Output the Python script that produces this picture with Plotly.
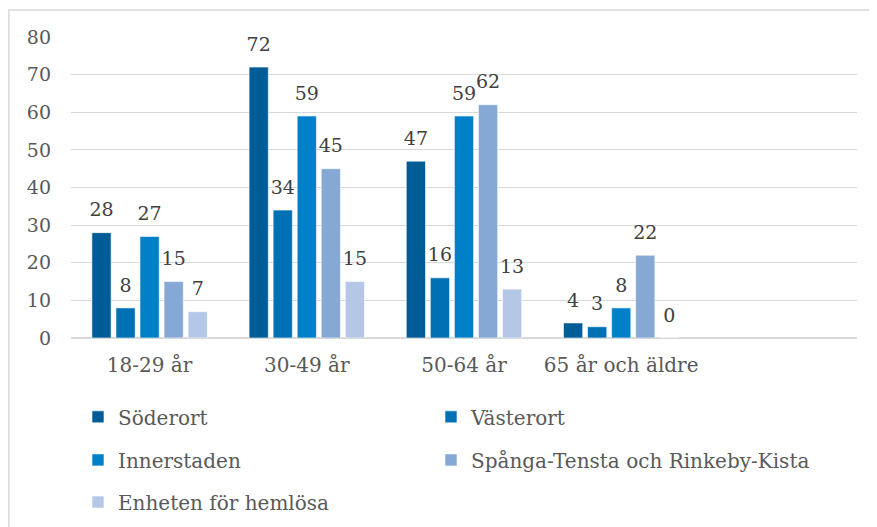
import plotly.graph_objects as go

categories = ["18-29 år", "30-49 år", "50-64 år", "65 år och äldre"]
series_names = ["Söderort", "Västerort", "Innerstaden",
                "Spånga-Tensta och Rinkeby-Kista", "Enheten för hemlösa"]
soderort = [28, 72, 47, 4]
vasterort = [8, 34, 16, 3]
innerstaden = [27, 59, 59, 8]
spanga = [15, 45, 62, 22]
hemlosa = [7, 15, 13, 0]
y_ticks = [0, 10, 20, 30, 40, 50, 60, 70, 80]

values = [soderort, vasterort, innerstaden, spanga, hemlosa]
colors = ["#005C97", "#0070B5", "#0080C8", "#85A8D5", "#B4C7E7"]
legend_ids = ["legend", "legend2", "legend3", "legend4", "legend5"]

FONT = "DejaVu Serif"
BARGAP = 0.235

fig = go.Figure()
for i, (name, vals, col, lg) in enumerate(zip(series_names, values, colors, legend_ids)):
    fig.add_trace(go.Bar(
        name=name, x=categories, y=vals,
        marker=dict(color=col, line=dict(color="white", width=0.6)),
        legend=lg, offsetgroup=str(i),
    ))
# value labels, grouped like the bars
for i, (name, vals) in enumerate(zip(series_names, values)):
    fig.add_trace(go.Scatter(
        x=categories, y=vals, mode="markers+text",
        text=[str(v) for v in vals], textposition="top center",
        marker=dict(size=17, opacity=0),
        textfont=dict(family=FONT, size=19, color="#404040"),
        showlegend=False, hoverinfo="skip", cliponaxis=False,
        offsetgroup=str(i),
    ))

leg_common = dict(orientation="h", xanchor="left", yanchor="middle",
                  font=dict(family=FONT, size=20, color="#595959"),
                  bgcolor="rgba(0,0,0,0)", itemclick=False)
COL1, COL2 = 0.0089, 0.458
ROW1, ROW2, ROW3 = -0.262, -0.405, -0.545

fig.update_layout(
    width=869, height=519,
    margin=dict(l=63, r=20, t=29, b=189, autoexpand=False),
    paper_bgcolor="white", plot_bgcolor="white",
    barmode="group", bargap=BARGAP, bargroupgap=0.2,
    scattermode="group", scattergap=BARGAP,
    font=dict(family=FONT, size=20, color="#595959"),
    showlegend=True,
    legend=dict(x=COL1, y=ROW1, **leg_common),
    legend2=dict(x=COL2, y=ROW1, **leg_common),
    legend3=dict(x=COL1, y=ROW2, **leg_common),
    legend4=dict(x=COL2, y=ROW2, **leg_common),
    legend5=dict(x=COL1, y=ROW3, **leg_common),
    xaxis=dict(type="category", range=[-0.5, 4.5], showgrid=False,
               showline=False, ticks="", ticklabelstandoff=13,
               automargin=False,
               tickfont=dict(family=FONT, size=20, color="#595959")),
    yaxis=dict(range=[0, 80], tickvals=y_ticks, showgrid=True,
               gridcolor="#D9D9D9", gridwidth=1.2, zeroline=True,
               zerolinecolor="#D9D9D9", zerolinewidth=1.5,
               showline=False, ticks="", ticklabelstandoff=19,
               automargin=False,
               tickfont=dict(family=FONT, size=19, color="#595959")),
    shapes=[dict(type="rect", xref="paper", yref="paper",
                 x0=-0.079, x1=1.2, y0=-1.0, y1=1.0897,
                 line=dict(color="#D9D9D9", width=1.5), layer="below")],
)

fig.write_html("out.html")
